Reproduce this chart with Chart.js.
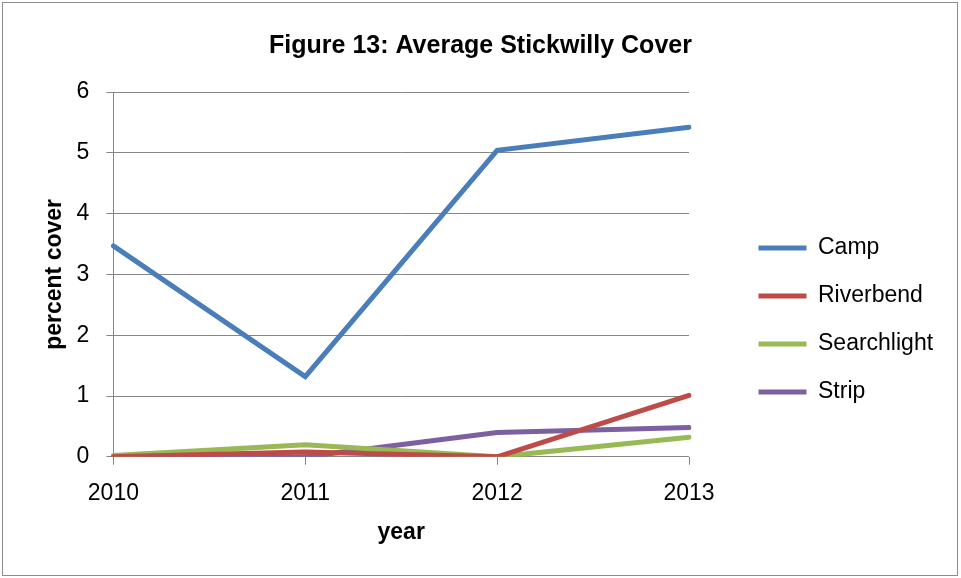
<!DOCTYPE html>
<html>
<head>
<meta charset="utf-8">
<title>Average Stickwilly Cover</title>
<script src="https://cdn.jsdelivr.net/npm/chart.js@4"></script>
<style>
    html, body { margin: 0; padding: 0; background: #fff; }
    #wrap { position: relative; width: 961px; height: 578px; }
    #frame {
        position: absolute; left: 2px; top: 2px; width: 954px; height: 572px;
        border: 1px solid #8c8c8c; pointer-events: none;
    }
</style>
</head>
<body>
<div id="wrap">
    <canvas id="coverChart" width="961" height="578"></canvas>
    <div id="frame"></div>
</div>
<script>
// Average cover per site, by survey year
const years = ['2010', '2011', '2012', '2013'];
const camp = [3.47, 1.32, 5.04, 5.42];
const riverbend = [0, 0.08, 0, 1.01];
const searchlight = [0.02, 0.2, 0, 0.32];
const strip = [0, 0, 0.4, 0.48];
const yTicks = [0, 1, 2, 3, 4, 5, 6];

const fontFamily = '"Liberation Sans", Arial, sans-serif';
const gridGray = '#868686';

// legend column sits right of the plot, a bit below its middle
const LEGEND_WIDTH = 272;
const LEGEND_LEFT = 733.5;
const LEGEND_TOP = 211.5;

const legendPlacement = {
    id: 'legendPlacement',
    beforeLayout(chart) {
        const legend = chart.legend;
        if (legend && !legend._fixedFit) {
            const fit = legend.fit.bind(legend);
            legend.fit = function () {
                fit();
                this.width = LEGEND_WIDTH;
            };
            legend._fixedFit = true;
        }
    },
    afterLayout(chart) {
        const legend = chart.legend;
        if (!legend) return;
        const rows = legend.columnSizes && legend.columnSizes[0] ? legend.columnSizes[0].height : 0;
        const pad = legend.options.labels.padding;
        legend.left = LEGEND_LEFT;
        legend.right = LEGEND_LEFT + legend.width;
        legend.top = LEGEND_TOP;
        legend.height = rows + pad;
        legend.bottom = LEGEND_TOP + legend.height;
    }
};

document.addEventListener('DOMContentLoaded', () => {
    const ctx = document.getElementById('coverChart').getContext('2d');

    const series = [
        { label: 'Camp', data: camp, color: '#4A7EBB' },
        { label: 'Riverbend', data: riverbend, color: '#BE4B48' },
        { label: 'Searchlight', data: searchlight, color: '#98B954' },
        { label: 'Strip', data: strip, color: '#7D60A0' }
    ];

    new Chart(ctx, {
        type: 'line',
        data: {
            labels: years,
            datasets: series.map(s => ({
                label: s.label,
                data: s.data,
                borderColor: s.color,
                backgroundColor: s.color,
                borderWidth: 5,
                borderCapStyle: 'round',
                pointRadius: 0,
                pointStyle: 'line',
                tension: 0
            }))
        },
        plugins: [legendPlacement],
        options: {
            responsive: false,
            animation: false,
            layout: { padding: { left: 0, right: 0, bottom: 32, top: 0 } },
            plugins: {
                title: {
                    display: true,
                    text: 'Figure 13: Average Stickwilly Cover',
                    color: '#000',
                    font: { family: fontFamily, size: 25, weight: 'bold' },
                    padding: { top: 31, bottom: 31 }
                },
                legend: {
                    position: 'right',
                    labels: {
                        color: '#000',
                        font: { family: fontFamily, size: 23 },
                        usePointStyle: true,
                        pointStyleWidth: 48,
                        boxHeight: 5,
                        padding: 25
                    }
                },
                tooltip: { enabled: false }
            },
            scales: {
                x: {
                    offset: false,
                    border: { display: false },
                    grid: {
                        drawOnChartArea: false,
                        color: gridGray,
                        tickLength: 8
                    },
                    ticks: {
                        color: '#000',
                        font: { family: fontFamily, size: 23 },
                        maxRotation: 0,
                        padding: 15
                    },
                    title: {
                        display: true,
                        text: 'year',
                        color: '#000',
                        font: { family: fontFamily, size: 23, weight: 'bold' },
                        padding: { top: -4, bottom: 0 }
                    }
                },
                y: {
                    min: 0,
                    max: 6,
                    afterBuildTicks: axis => {
                        axis.ticks = yTicks.map(v => ({ value: v }));
                    },
                    border: { display: true, color: gridGray, width: 1 },
                    grid: {
                        color: gridGray,
                        lineWidth: 1,
                        tickLength: 7
                    },
                    ticks: {
                        color: '#000',
                        font: { family: fontFamily, size: 23 },
                        padding: 17
                    },
                    title: {
                        display: true,
                        text: 'percent cover',
                        color: '#000',
                        font: { family: fontFamily, size: 23, weight: 'bold' },
                        padding: { top: 41, bottom: -9 }
                    }
                }
            }
        }
    });
});
</script>
</body>
</html>
